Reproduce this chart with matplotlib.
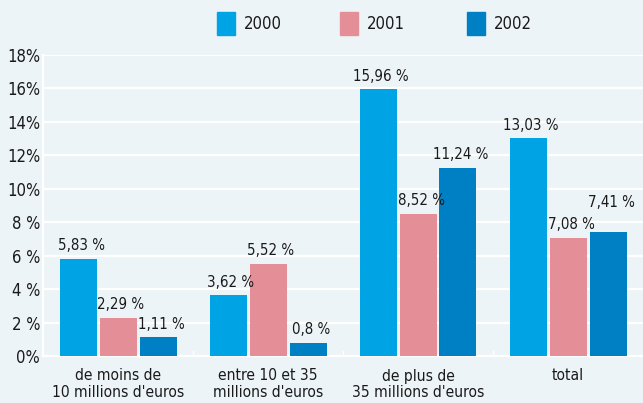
import numpy as np
import matplotlib
matplotlib.use('Agg')
import matplotlib.pyplot as plt
from matplotlib.patches import Rectangle

plt.rcParams['font.family'] = ['DejaVu Sans']
plt.rcParams['font.stretch'] = 'condensed'

categories = ["de moins de\n10 millions d'euros", "entre 10 et 35\nmillions d'euros",
              "de plus de\n35 millions d'euros", "total"]
years = ['2000', '2001', '2002']
v2000 = [5.83, 3.62, 15.96, 13.03]
v2001 = [2.29, 5.52, 8.52, 7.08]
v2002 = [1.11, 0.80, 11.24, 7.41]
yticks = [0, 2, 4, 6, 8, 10, 12, 14, 16, 18]
ytick_labels = ['0%', '2 %', '4 %', '6 %', '8 %', '10%', '12%', '14%', '16%', '18%']

colors = ['#00a3e4', '#e48e98', '#0080c4']
bg = '#edf4f7'
txt = '#1a1a1a'

fig = plt.figure(figsize=(6.43, 4.03), dpi=100, facecolor=bg)
ax = fig.add_axes([43 / 643, 1 - 356 / 403, 600 / 643, 301 / 403], facecolor=bg)

x = np.arange(len(categories))
w = 37 / 150
step = 40 / 150
series = [v2000, v2001, v2002]
for i, vals in enumerate(series):
    xs = x + (i - 1) * step
    ax.bar(xs, vals, width=w, color=colors[i], label=years[i], zorder=3)
    for xi, v in zip(xs, vals):
        off = 0.78
        if i == 2 and v == 7.41:
            off = 1.75
        ax.text(xi + 0.02, v + off, ('%.2f' % v).rstrip('0').replace('.', ',') + ' %',
                ha='center', va='center', fontsize=10.8, color=txt, zorder=4)

ax.set_xlim(-0.5, 3.5)
ax.set_ylim(0, 18)
ax.set_yticks(yticks)
ax.set_yticklabels(ytick_labels, fontsize=12, color=txt)
ax.grid(axis='y', color='white', linewidth=1.6, zorder=0)
ax.set_xticks(x)
ax.set_xticklabels(categories, fontsize=11.2, color=txt, linespacing=1.15)
ax.tick_params(axis='x', length=0, pad=9)
ax.tick_params(axis='y', length=0, pad=2)
for s in ['top', 'right']:
    ax.spines[s].set_visible(False)
ax.spines['left'].set_color('white')
ax.spines['left'].set_linewidth(1.6)
ax.spines['bottom'].set_color('white')
ax.spines['bottom'].set_linewidth(1.6)
for sep in [0.5, 1.5, 2.5]:
    ax.plot([sep, sep], [0, 0.3], color='white', linewidth=1, zorder=2)

# legend drawn by hand at the top
for i, (yr, c) in enumerate(zip(years, colors)):
    lx = [217, 340, 467][i]
    fig.add_artist(Rectangle((lx / 643, 1 - 35 / 403), 18 / 643, 23 / 403,
                             transform=fig.transFigure, color=c))
    fig.text((lx + 27) / 643, 1 - 24 / 403, yr, ha='left', va='center',
             fontsize=12, color=txt)

fig.savefig('out.png', dpi=100, facecolor=bg)
